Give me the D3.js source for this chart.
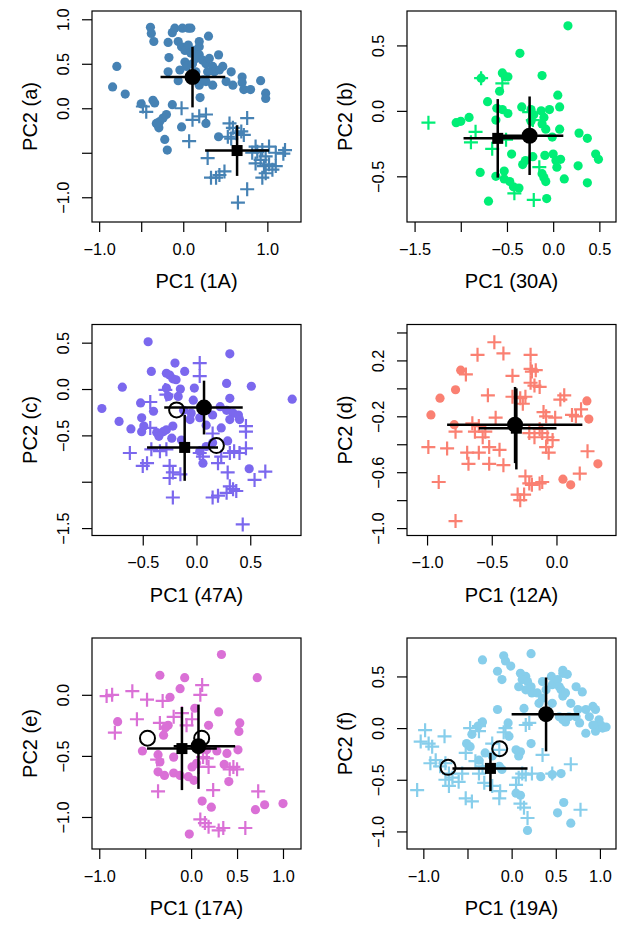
<!DOCTYPE html>
<html>
<head>
<meta charset="utf-8">
<script src="https://cdn.jsdelivr.net/npm/d3@7"></script>
<style>
  body { margin: 0; background: #fff; }
  text { font-family: "Liberation Sans", Arial, sans-serif; fill: #000; }
</style>
</head>
<body>
<div id="chart"></div>
<script>
// ---- panel (a) : 1A ----
const dotsA = [[-0.39,0.91],[-0.38,0.84],[-0.35,0.75],[-0.79,0.47],[-0.84,0.24],[-0.69,0.16],[-0.50,0.05],[-0.36,0.09],[-0.34,0.06],[-0.13,0.04],
  [-0.20,-0.07],[-0.24,-0.11],[-0.28,-0.15],[-0.30,-0.19],[-0.29,-0.22],[-0.32,-0.17],[-0.22,-0.35],[-0.19,-0.47],[-0.02,-0.21],[0.20,0.12],
  [0.27,-0.17],[0.42,-0.32],[-0.18,0.74],[-0.17,0.57],[-0.18,0.41],[-0.13,0.85],[-0.10,0.90],[-0.01,0.90],[0.06,0.90],[0.09,0.90],
  [-0.06,0.75],[-0.02,0.69],[0.02,0.65],[0.06,0.71],[0.09,0.62],[0.13,0.65],[0.19,0.75],[0.19,0.69],[0.30,0.81],[-0.06,0.31],
  [0.02,0.52],[0.04,0.47],[0.11,0.50],[0.15,0.56],[0.19,0.60],[0.23,0.54],[0.27,0.50],[0.31,0.56],[0.35,0.47],[0.37,0.41],
  [0.42,0.60],[0.43,0.43],[0.47,0.47],[0.51,0.30],[0.57,0.41],[0.35,0.26],[0.27,0.30],[0.19,0.26],[0.24,0.32],[0.70,0.35],
  [0.70,0.29],[0.72,0.21],[0.80,0.21],[0.92,0.31],[0.98,0.17],[0.98,0.11],[0.59,0.26],[-0.04,0.43],[0.15,0.41],[0.29,0.41]];
const plusA = [[-0.48,0.02],[-0.44,-0.04],[-0.02,0.00],[0.11,-0.13],[0.19,-0.09],[0.27,-0.07],[0.07,-0.37],[0.29,-0.56],[0.33,-0.78],[0.39,-0.78],
  [0.43,-0.75],[0.49,-0.71],[0.55,-0.17],[0.59,-0.22],[0.53,-0.32],[0.57,-0.34],[0.63,-0.28],[0.69,-0.26],[0.72,-0.30],[0.76,-0.11],
  [0.65,-1.06],[0.76,-0.91],[0.86,-0.43],[0.82,-0.50],[0.88,-0.49],[0.94,-0.47],[0.92,-0.58],[0.86,-0.62],[0.98,-0.54],[0.96,-0.65],
  [1.02,-0.63],[0.98,-0.73],[1.06,-0.69],[1.10,-0.65],[0.94,-0.78],[1.10,-0.50],[1.21,-0.47],[1.19,-0.51],[1.02,-0.43]];
// mean: [x, y, xlo, xhi, ylo, yhi]
const meanDotA = [0.11, 0.35, -0.27, 0.50, 0.01, 0.69];
const meanSqA = [0.64, -0.475, 0.26, 1.02, -0.76, -0.19];
const openA = [];

// ---- panel (b) : 30A ----
const dotsB = [[0.16,0.65],[-0.36,0.44],[-0.55,0.29],[-0.52,0.26],[-0.49,0.26],[-0.58,0.15],[-0.12,0.27],[-0.78,0.25],[-0.71,0.07],[0.05,0.12],
  [-1.05,-0.09],[-1.00,-0.08],[-0.91,-0.05],[-0.61,0.02],[-0.55,0.01],[-0.49,-0.02],[-0.62,-0.07],[-0.34,0.03],[-0.24,0.01],[-0.21,-0.03],
  [-0.13,0.00],[-0.04,0.01],[0.07,0.03],[-0.12,-0.10],[-0.08,-0.14],[-0.01,-0.20],[0.07,-0.14],[0.28,-0.17],[0.37,-0.21],[0.46,-0.33],
  [0.49,-0.37],[0.27,-0.42],[0.37,-0.55],[0.12,-0.52],[0.00,-0.33],[-0.09,-0.34],[0.03,-0.38],[0.08,-0.37],[0.04,-0.43],[-0.12,-0.48],
  [-0.10,-0.51],[-0.08,-0.54],[-0.07,-0.67],[-0.22,-0.35],[-0.33,-0.41],[-0.30,-0.38],[-0.45,-0.33],[-0.53,-0.46],[-0.53,-0.52],[-0.62,-0.50],
  [-0.79,-0.47],[-0.47,-0.54],[-0.43,-0.58],[-0.37,-0.59],[-0.70,-0.69],[-0.24,-0.08],[-0.10,-0.05]];
const plusB = [[-1.35,-0.09],[-0.78,0.25],[-0.55,0.21],[-0.84,-0.16],[-0.89,-0.24],[-0.66,-0.29],[-0.51,-0.22],[-0.42,-0.63],[-0.21,-0.68],[-0.15,-0.43],
  [-0.26,-0.01],[-0.22,-0.07]];
const meanDotB = [-0.255, -0.19, -0.60, 0.11, -0.49, 0.11];
const meanSqB = [-0.60, -0.21, -0.97, -0.26, -0.51, 0.09];
const openB = [];

// ---- panel (c) : 47A ----
const dotsC = [[-0.45,0.51],[0.31,0.38],[-0.88,-0.21],[-0.69,0.02],[-0.72,-0.35],[-0.61,-0.43],[-0.52,-0.15],[-0.51,-0.31],[-0.49,-0.40],[-0.51,-0.46],
  [-0.42,0.19],[-0.40,-0.24],[-0.20,0.28],[-0.28,0.17],[-0.25,0.15],[-0.22,0.11],[-0.11,0.19],[-0.19,0.10],[-0.28,0.01],[-0.15,0.00],
  [-0.17,-0.08],[-0.26,-0.08],[-0.37,-0.47],[-0.31,-0.46],[-0.28,-0.44],[-0.35,-0.51],[-0.22,-0.40],[-0.23,-0.53],[-0.02,0.01],[-0.03,-0.12],
  [-0.05,-0.26],[-0.06,-0.33],[0.03,-0.31],[0.09,-0.39],[0.28,0.06],[0.31,-0.10],[0.51,0.03],[0.89,-0.11],[0.22,-0.19],[0.28,-0.23],
  [0.34,-0.26],[0.39,-0.28],[0.40,-0.33],[0.31,-0.33],[0.23,-0.42],[0.06,-0.80],[0.49,-0.86],[0.29,-0.56],[0.15,-0.58],[0.09,-0.62],
  [0.03,-0.67],[-0.14,-0.55],[0.15,-0.28],[-0.12,-0.23]];
const plusC = [[0.03,0.28],[0.03,0.14],[-0.43,-0.14],[-0.29,-0.01],[-0.28,-0.06],[-0.62,-0.69],[-0.50,-0.83],[-0.46,-0.80],[-0.42,-0.65],[-0.34,-0.67],
  [-0.28,-0.65],[-0.25,-0.83],[-0.22,-0.90],[-0.15,-0.92],[-0.25,-0.96],[-0.22,-1.17],[0.03,-0.69],[0.06,-0.73],[0.15,-0.48],[0.20,-0.80],
  [0.23,-0.73],[0.31,-0.69],[0.35,-0.67],[0.40,-0.69],[0.46,-0.64],[0.29,-0.90],[0.31,-1.05],[0.34,-1.08],[0.37,-1.10],[0.28,-1.12],
  [0.15,-1.17],[0.20,-1.15],[0.46,-0.40],[0.46,-0.46],[0.54,-0.98],[0.64,-0.89],[0.43,-1.46],[-0.43,-0.42]];
const meanDotC = [0.07, -0.20, -0.30, 0.43, -0.49, 0.09];
const meanSqC = [-0.11, -0.63, -0.46, 0.20, -0.99, -0.28];
const openC = [[-0.185,-0.225],[0.185,-0.61]];

// ---- panel (d) : 12A ----
const dotsD = [[-0.74,0.13],[-0.78,-0.01],[-0.90,-0.07],[-0.97,-0.19],[-0.79,-0.26],[0.235,-0.09],[0.25,-0.22],[0.32,-0.54],[0.05,-0.65],[0.11,-0.69]];
const plusD = [[-0.48,0.33],[-0.61,0.24],[-0.41,0.25],[-0.20,0.24],[-0.20,0.14],[-0.19,0.12],[-0.16,0.13],[-0.34,0.09],[-0.70,0.10],[-0.20,0.04],
  [-0.17,0.02],[-0.13,0.01],[-0.53,-0.05],[-0.28,-0.07],[-0.24,-0.06],[0.06,-0.05],[0.03,-0.08],[-0.10,-0.17],[-0.08,-0.20],[-0.01,-0.21],
  [0.12,-0.19],[0.15,-0.20],[0.19,-0.15],[-0.47,-0.21],[-0.65,-0.25],[-0.60,-0.27],[-0.55,-0.31],[-0.57,-0.35],[-0.63,-0.31],[-0.78,-0.31],
  [-0.99,-0.42],[-0.845,-0.43],[-0.69,-0.46],[-0.68,-0.54],[-0.60,-0.46],[-0.52,-0.54],[-0.44,-0.44],[-0.41,-0.55],[-0.52,-0.42],[-0.13,-0.29],
  [-0.11,-0.32],[-0.07,-0.35],[-0.03,-0.37],[-0.08,-0.42],[-0.06,-0.46],[-0.17,-0.35],[-0.21,-0.32],[-0.91,-0.67],[-0.78,-0.95],[-0.24,-0.63],
  [-0.21,-0.68],[-0.19,-0.69],[-0.13,-0.68],[-0.11,-0.67],[-0.30,-0.76],[-0.25,-0.76],[-0.28,-0.80],[0.18,-0.61],[0.24,-0.45],[-0.34,-0.06],
  [-0.26,-0.11]];
const meanDotD = [-0.32, -0.26, -0.845, 0.20, -0.535, 0.01];
const meanSqD = [-0.31, -0.285, -0.60, 0.00, -0.58, 0.00];
const openD = [];

// ---- panel (e) : 17A ----
const dotsE = [[0.33,0.33],[0.72,0.14],[-0.34,0.16],[-0.07,0.14],[-0.12,0.05],[-0.23,-0.02],[0.04,-0.11],[0.30,-0.14],[-0.80,-0.22],[-0.25,-0.25],
  [-0.28,-0.27],[-0.30,-0.33],[0.19,-0.25],[0.53,-0.23],[0.52,-0.30],[-0.53,-0.46],[-0.36,-0.49],[-0.34,-0.55],[-0.19,-0.51],[-0.36,-0.63],
  [-0.29,-0.66],[-0.19,-0.64],[-0.12,-0.66],[-0.03,-0.67],[0.03,-0.70],[0.28,-0.46],[0.39,-0.48],[0.51,-0.45],[0.36,-0.57],[0.41,-0.71],
  [0.12,-0.87],[0.22,-0.92],[0.70,-0.94],[0.80,-0.90],[1.00,-0.89],[-0.02,-1.14],[0.01,-0.59],[0.06,-0.56],[0.17,-0.45]];
const plusE = [[-0.92,-0.01],[-0.86,0.00],[-0.64,0.03],[-0.48,-0.04],[-0.31,-0.05],[-0.59,-0.20],[-0.83,-0.31],[-0.34,-0.23],[0.12,0.08],[0.10,0.00],
  [-0.10,-0.15],[0.01,-0.20],[-0.05,-0.25],[-0.37,-0.53],[-0.36,-0.79],[0.13,-0.51],[0.17,-0.52],[0.19,-0.59],[0.42,-0.61],[0.46,-0.59],
  [0.50,-0.61],[0.24,-0.78],[0.73,-0.79],[0.10,-1.02],[0.15,-1.05],[0.19,-1.08],[0.30,-1.11],[0.35,-1.09],[0.59,-1.09],[-0.19,-0.18],
  [0.08,-0.59]];
const meanDotE = [0.08, -0.42, -0.19, 0.48, -0.77, -0.08];
const meanSqE = [-0.10, -0.44, -0.48, 0.28, -0.78, -0.10];
const openE = [[-0.475,-0.355],[0.115,-0.355]];

// ---- panel (f) : 19A ----
const dotsF = [[-0.33,0.66],[-0.09,0.70],[-0.07,0.65],[-0.01,0.60],[0.22,0.72],[-0.16,0.55],[-0.11,0.47],[0.10,0.53],[0.16,0.50],[0.12,0.47],
  [0.18,0.45],[0.22,0.40],[0.23,0.34],[0.29,0.34],[0.35,0.29],[0.16,0.37],[0.08,0.40],[0.45,0.50],[0.46,0.42],[0.52,0.47],
  [0.54,0.40],[0.56,0.37],[0.58,0.31],[0.61,0.34],[0.58,0.53],[0.58,0.56],[0.63,0.52],[0.80,0.35],[0.67,0.24],[0.75,0.18],
  [0.73,0.11],[0.77,0.05],[0.84,0.18],[0.88,0.11],[0.92,0.21],[0.95,0.18],[0.99,0.08],[1.01,0.03],[1.03,0.00],[1.07,0.01],
  [0.95,-0.03],[0.84,-0.05],[0.92,0.03],[0.58,0.08],[0.61,0.06],[0.54,0.11],[0.65,0.11],[-0.16,0.18],[0.14,0.19],[-0.33,0.06],
  [-0.38,0.02],[-0.45,-0.06],[-0.51,-0.15],[-0.47,-0.18],[-0.03,-0.08],[-0.04,0.05],[0.10,-0.23],[0.08,-0.27],[0.22,-0.15],[0.33,-0.47],
  [0.46,-0.45],[0.56,-0.44],[0.59,-0.72],[0.52,-0.82],[0.67,-0.92],[0.18,-0.99],[0.05,-0.63],[0.10,-0.65],[-0.37,-0.31],[-0.30,-0.24],
  [-0.22,-0.27],[-0.14,-0.37],[-0.11,-0.40],[0.35,0.45],[0.39,0.37],[0.31,0.24],[0.46,0.24],[0.73,0.40],[0.05,-0.21]];
const plusF = [[-0.98,-0.02],[-1.03,-0.13],[-0.94,-0.15],[-0.90,-0.18],[-0.76,-0.08],[-1.07,-0.60],[-0.92,-0.34],[-0.86,-0.31],[-0.81,-0.37],[-0.75,-0.34],
  [-0.71,-0.44],[-0.75,-0.50],[-0.67,-0.48],[-0.60,-0.52],[-0.71,-0.56],[-0.52,-0.68],[-0.45,-0.71],[-0.47,0.00],[-0.37,0.02],[-0.37,-0.03],
  [-0.07,0.00],[-0.09,-0.04],[0.16,0.03],[0.20,0.05],[-0.41,-0.32],[-0.33,-0.37],[-0.37,-0.44],[-0.31,-0.53],[-0.22,-0.56],[-0.14,-0.68],
  [-0.13,-0.61],[0.08,-0.48],[0.12,-0.44],[0.05,-0.55],[0.16,-0.45],[0.23,-0.44],[0.10,-0.73],[0.14,-0.77],[0.18,-0.87],[0.35,-0.26],
  [0.46,-0.44],[0.67,-0.35],[0.78,-0.79],[-0.52,-0.24],[-0.22,-0.15],[-0.14,-0.21],[-0.56,-0.44]];
const meanDotF = [0.39, 0.135, 0.00, 0.765, -0.225, 0.49];
const meanSqF = [-0.24, -0.39, -0.67, 0.18, -0.61, -0.24];
const openF = [[-0.72,-0.38],[-0.135,-0.20]];

// axis setup per panel
const panelIds = ["a", "b", "c", "d", "e", "f"];
const xTitles = ["PC1 (1A)", "PC1 (30A)", "PC1 (47A)", "PC1 (12A)", "PC1 (17A)", "PC1 (19A)"];
const colors = ["#4682B4", "#00EE76", "#7B68EE", "#FA8072", "#DA70D6", "#87CEEB"];
const xDomains = [[-1.085, 1.40], [-1.582, 0.68], [-0.972, 0.972], [-1.155, 0.46], [-1.079, 1.196], [-1.185, 1.182]];
const yDomains = [[-1.278, 1.093], [-0.849, 0.763], [-1.58, 0.696], [-1.053, 0.457], [-1.262, 0.465], [-1.17, 0.872]];
const xTicks = [[-1, -0.5, 0, 0.5, 1], [-1.5, -1, -0.5, 0, 0.5], [-0.5, 0, 0.5], [-1, -0.5, 0], [-1, -0.5, 0, 0.5, 1], [-1, -0.5, 0, 0.5, 1]];
const xLabels = [[-1, 0, 1], [-1.5, -0.5, 0, 0.5], [-0.5, 0, 0.5], [-1, -0.5, 0], [-1, 0, 0.5, 1], [-1, 0, 0.5, 1]];
const yTicks = [[-1, -0.5, 0, 0.5, 1], [-0.5, 0, 0.5], [-1.5, -1, -0.5, 0, 0.5], [-1, -0.8, -0.6, -0.4, -0.2, 0, 0.2, 0.4], [-1, -0.5, 0], [-1, -0.5, 0, 0.5]];
const yLabels = [[-1, 0, 0.5, 1], [-0.5, 0, 0.5], [-1.5, -0.5, 0, 0.5], [-1, -0.6, -0.2, 0.2], [-1, -0.5, 0], [-1, -0.5, 0, 0.5]];

const dots = [dotsA, dotsB, dotsC, dotsD, dotsE, dotsF];
const pluses = [plusA, plusB, plusC, plusD, plusE, plusF];
const meanDots = [meanDotA, meanDotB, meanDotC, meanDotD, meanDotE, meanDotF];
const meanSqs = [meanSqA, meanSqB, meanSqC, meanSqD, meanSqE, meanSqF];
const opens = [openA, openB, openC, openD, openE, openF];

const W = 624, H = 925;
const colX = [92, 407], rowY = [11, 324.5, 638];
const boxW = 209, boxH = 211;

const svg = d3.select("#chart").append("svg").attr("width", W).attr("height", H);
const fmt = d3.format(".1f");

panelIds.forEach((id, i) => {
  const left = colX[i % 2], top = rowY[Math.floor(i / 2)];
  const x = d3.scaleLinear().domain(xDomains[i]).range([left, left + boxW]);
  const y = d3.scaleLinear().domain(yDomains[i]).range([top + boxH, top]);
  const g = svg.append("g");
  const col = colors[i];

  // points
  g.append("g").selectAll("circle").data(dots[i]).join("circle")
    .attr("cx", d => x(d[0])).attr("cy", d => y(d[1])).attr("r", 4.6).attr("fill", col);
  g.append("g").selectAll("path").data(pluses[i]).join("path")
    .attr("d", d => `M${x(d[0]) - 7},${y(d[1])}h14M${x(d[0])},${y(d[1]) - 7}v14`)
    .attr("stroke", col).attr("stroke-width", 2.2).attr("fill", "none");

  // error bars
  const bars = [meanSqs[i], meanDots[i]];
  const eb = g.append("g").attr("stroke", "#000").attr("stroke-width", 2.5);
  bars.forEach(m => {
    eb.append("line").attr("x1", x(m[2])).attr("x2", x(m[3])).attr("y1", y(m[1])).attr("y2", y(m[1]));
    eb.append("line").attr("x1", x(m[0])).attr("x2", x(m[0])).attr("y1", y(m[4])).attr("y2", y(m[5]));
  });
  const sq = meanSqs[i], md = meanDots[i];
  g.append("rect").attr("x", x(sq[0]) - 5.5).attr("y", y(sq[1]) - 5.5)
    .attr("width", 11).attr("height", 11).attr("fill", "#000");
  g.append("circle").attr("cx", x(md[0])).attr("cy", y(md[1])).attr("r", 8).attr("fill", "#000");
  g.append("g").selectAll("circle").data(opens[i]).join("circle")
    .attr("cx", d => x(d[0])).attr("cy", d => y(d[1])).attr("r", 7.5)
    .attr("fill", "none").attr("stroke", "#000").attr("stroke-width", 2);

  // box
  g.append("rect").attr("x", left).attr("y", top).attr("width", boxW).attr("height", boxH)
    .attr("fill", "none").attr("stroke", "#000").attr("stroke-width", 1.2);

  // x axis
  const xa = g.append("g").attr("transform", `translate(0,${top + boxH})`)
    .call(d3.axisBottom(x).tickValues(xTicks[i]).tickSize(10).tickPadding(11.3)
      .tickFormat(d => xLabels[i].includes(d) ? fmt(d) : ""));
  xa.select(".domain").remove();
  xa.selectAll("line").attr("stroke-width", 1.2);
  xa.selectAll("text").attr("font-size", 16.3).attr("font-family", null);

  // y axis (labels parallel to axis)
  const ya = g.append("g").attr("transform", `translate(${left},0)`)
    .call(d3.axisLeft(y).tickValues(yTicks[i]).tickSize(10)
      .tickFormat(d => yLabels[i].includes(d) ? fmt(d) : ""));
  ya.select(".domain").remove();
  ya.selectAll("line").attr("stroke-width", 1.2);
  ya.selectAll("text").attr("font-size", 16.3).attr("font-family", null)
    .attr("x", null).attr("dy", null).attr("text-anchor", "middle")
    .attr("transform", "translate(-23.4,0) rotate(-90)");

  // titles
  g.append("text").attr("x", left + boxW / 2).attr("y", top + boxH + 66)
    .attr("text-anchor", "middle").attr("font-size", 20).text(xTitles[i]);
  g.append("text").attr("transform", `translate(${left - 55},${top + boxH / 2}) rotate(-90)`)
    .attr("text-anchor", "middle").attr("font-size", 20).text(`PC2 (${id})`);
});
</script>
</body>
</html>
